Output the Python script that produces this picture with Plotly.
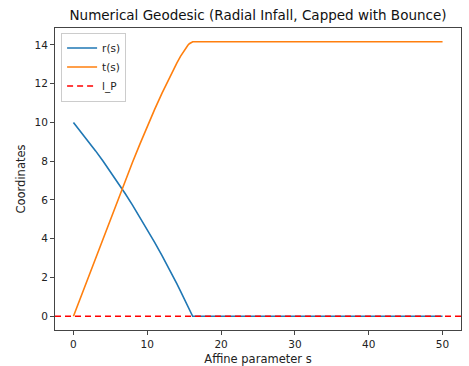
import plotly.graph_objects as go

# Affine parameter samples
s_vals = [0, 1, 2, 3, 4, 5, 6, 7, 8, 9, 10, 11, 12, 12.5, 13, 13.5, 14, 14.5, 15, 15.25, 15.5, 15.7, 15.85, 16, 16.15, 50]
# r(s): radial coordinate (capped at 0 after bounce)
r_vals = [10, 9.52, 9.03, 8.53, 8.01, 7.47, 6.91, 6.33, 5.73, 5.11, 4.47, 3.81, 3.13, 2.78, 2.42, 2.05, 1.68, 1.3, 0.9, 0.7, 0.49, 0.32, 0.19, 0.07, 0.0, 0.0]
# t(s): time coordinate
t_vals = [0, 1.0, 2.0, 3.0, 4.0, 5.0, 6.0, 6.98, 7.94, 8.88, 9.79, 10.67, 11.51, 11.915, 12.31, 12.69, 13.06, 13.41, 13.73, 13.87, 13.98, 14.06, 14.11, 14.145, 14.16, 14.16]
# Planck length reference (effectively zero on this scale)
l_P = 1.616e-35

x_range = [-2.5, 52.5]
y_range = [-0.71, 14.87]
x_ticks = [0, 10, 20, 30, 40, 50]
y_ticks = [0, 2, 4, 6, 8, 10, 12, 14]

font_family = "DejaVu Sans"

fig = go.Figure()
fig.add_trace(go.Scatter(x=s_vals, y=r_vals, mode="lines", name="r(s)",
                         line=dict(color="#1f77b4", width=1.6)))
fig.add_trace(go.Scatter(x=s_vals, y=t_vals, mode="lines", name="t(s)",
                         line=dict(color="#ff7f0e", width=1.6)))
fig.add_trace(go.Scatter(x=x_range, y=[l_P, l_P], mode="lines", name="l_P",
                         line=dict(color="red", width=1.4, dash="6px,4px")))

axis_common = dict(
    showline=True, linecolor="#444", linewidth=1, mirror=True,
    ticks="outside", ticklen=4, tickcolor="#444", tickwidth=1,
    showgrid=False, zeroline=False, automargin=False,
    tickfont=dict(family=font_family, size=10.5, color="#222"),
)

fig.update_layout(
    width=469, height=366,
    margin=dict(l=55, r=8, t=28, b=36),
    paper_bgcolor="white", plot_bgcolor="white",
    title=dict(text="Numerical Geodesic (Radial Infall, Capped with Bounce)",
               x=(55 + 461) / 2 / 469, xanchor="center", y=1 - 15 / 366, yanchor="middle",
               font=dict(family=font_family, size=13.5, color="#111")),
    xaxis=dict(range=x_range, tickvals=x_ticks,
               title=dict(text="Affine parameter s", standoff=6,
                          font=dict(family=font_family, size=11.5, color="#222")),
               **axis_common),
    yaxis=dict(range=y_range, tickvals=y_ticks,
               title=dict(text="Coordinates", standoff=6,
                          font=dict(family=font_family, size=11.5, color="#222")),
               **axis_common),
    legend=dict(x=0.015, y=0.985, xanchor="left", yanchor="top",
                bgcolor="rgba(255,255,255,0.8)", bordercolor="#ccc", borderwidth=1,
                font=dict(family=font_family, size=10.5, color="#222"),
                itemwidth=30, tracegroupgap=0),
    showlegend=True,
)

fig.write_html("out.html")
